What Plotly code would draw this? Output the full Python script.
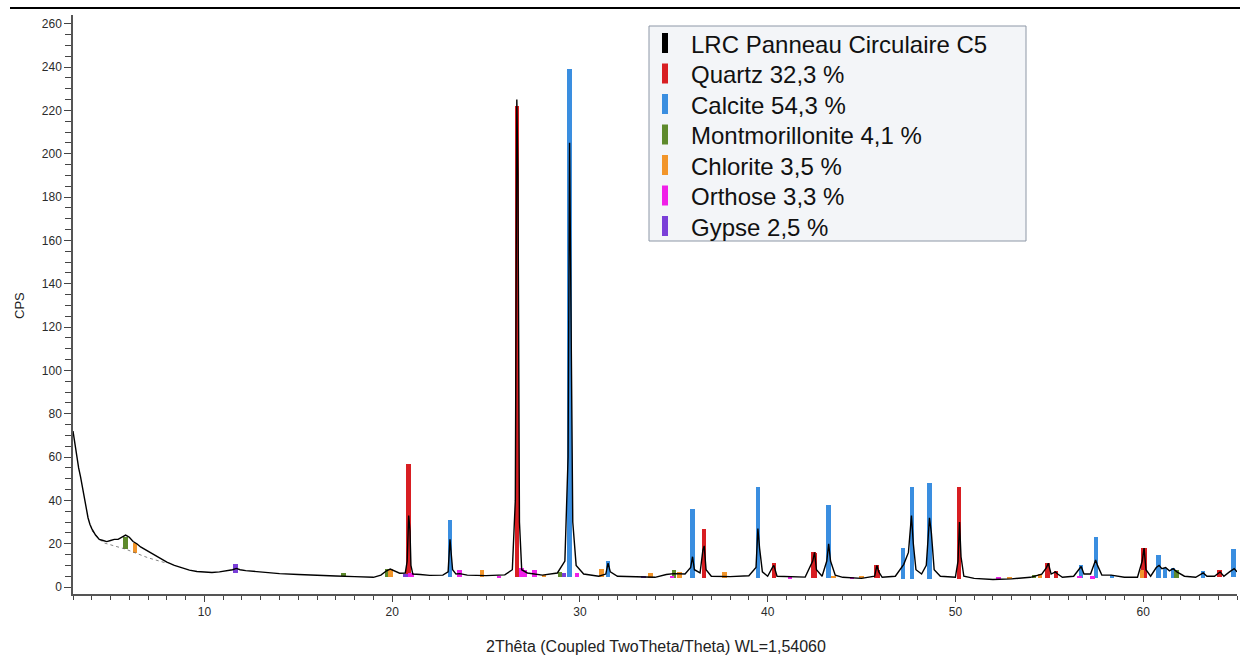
import numpy as np
import plotly.graph_objects as go

# ---------------- data ----------------
pattern_2theta = [3.0, 3.1, 3.2, 3.3, 3.4, 3.5, 3.6, 3.7, 3.8, 3.9, 4.0, 4.2, 4.4, 4.6, 4.8, 5.0, 5.2, 5.4,
                  5.6, 5.8, 5.9, 6.0, 6.2, 6.4, 6.6, 6.8, 7.0, 7.3, 7.6, 8.0, 8.4, 8.8, 9.2, 9.6, 10.0,
                  10.4, 10.8, 11.2, 11.5, 11.7, 11.9, 12.2, 12.6, 13.0, 13.5, 14.0, 15.0, 16.0, 17.0,
                  18.0, 19.0, 19.4, 19.7, 19.9, 20.1, 20.4, 20.7, 20.8, 20.88, 20.95, 21.0, 21.1, 21.5,
                  22.0, 22.7, 22.98, 23.08, 23.13, 23.22, 23.4, 23.6, 24.0, 25.0, 26.0, 26.4, 26.56,
                  26.64, 26.7, 26.78, 26.9, 27.2, 28.0, 28.8, 29.2, 29.37, 29.45, 29.52, 29.62, 29.8,
                  30.2, 31.0, 31.38, 31.5, 31.62, 32.0, 33.0, 34.0, 34.6, 35.0, 35.6, 35.9, 36.0, 36.1,
                  36.4, 36.55, 36.62, 36.72, 37.0, 38.0, 39.0, 39.38, 39.48, 39.57, 39.72, 40.0, 40.25,
                  40.33, 40.5, 41.5, 42.0, 42.4, 42.5, 42.6, 42.9, 43.15, 43.25, 43.35, 43.6, 44.0, 45.0,
                  45.7, 45.82, 45.92, 46.1, 46.8, 47.1, 47.25, 47.5, 47.66, 47.76, 47.9, 48.2, 48.45,
                  48.62, 48.72, 48.87, 49.2, 50.0, 50.14, 50.22, 50.3, 50.45, 51.0, 52.0, 53.0, 54.0,
                  54.6, 54.85, 54.95, 55.1, 55.33, 55.45, 55.7, 56.3, 56.6, 56.7, 56.85, 57.2, 57.47,
                  57.57, 57.8, 58.3, 59.0, 59.7, 59.95, 60.05, 60.15, 60.4, 60.7, 60.85, 61.0, 61.2,
                  61.4, 61.6, 61.8, 62.2, 62.8, 63.2, 63.4, 63.8, 64.1, 64.3, 64.6, 64.85, 65.0]
pattern_cps = [72, 66, 60, 55, 51, 46, 40, 36, 32, 29, 27, 24, 22, 21.5, 21, 21.5, 22, 22,
               23, 24, 23.5, 23, 21, 20, 18.5, 17.5, 16.3, 15, 13.5, 11.5, 10, 8.8, 7.8, 7.2, 6.8,
               6.7, 7.0, 7.5, 8.0, 8.6, 8.0, 7.6, 7.3, 6.8, 6.5, 6.2, 5.8, 5.3, 5.1,
               4.8, 4.5, 5.5, 7.5, 8.3, 7.5, 6.4, 6.5, 12, 33, 26, 10, 6, 5.8,
               5.4, 5.5, 7, 22, 18, 8, 6, 6.2, 5.5, 5.3, 5.6, 8, 40,
               225, 190, 30, 8, 6.5, 5.5, 6.5, 12, 60, 205, 140, 30, 10,
               6, 5, 6, 11, 7, 5, 4.8, 4.5, 5.8, 6.2, 6, 9, 14, 8,
               6.5, 17, 19, 8, 5, 4.8, 5.2, 9, 27, 18, 7, 5, 9,
               10, 5, 4.5, 4.6, 12, 16, 8, 5, 12, 20, 12, 5.5, 4.5, 4,
               5, 10, 7, 4.5, 5, 9, 10.5, 16, 33, 20, 8, 6, 10,
               32, 25, 8, 5, 4.5, 12, 30, 14, 5, 4, 3.5, 3.8, 4.5,
               6, 9, 11, 6, 7, 6, 4.5, 5, 8, 9.5, 6, 6, 12.5,
               10, 5.5, 5.5, 4.5, 4.5, 12, 18, 8, 5, 9, 10, 8.5, 9,
               7.5, 8.5, 7, 5, 4.5, 6.5, 5, 5, 7, 5, 7, 8.5, 7]

# background line under the reference sticks
bkg_2theta = [3.0, 4.0, 4.6, 5.8, 6.3, 7.0, 8.0, 9.0, 10.0, 12.0, 15.0, 20.0, 30.0, 40.0, 50.0, 55.0, 60.0, 65.0]
bkg_cps = [70, 26, 20.5, 17.5, 15.7, 13.5, 11, 8.5, 6.5, 6.5, 5.5, 4.5, 4.5, 4.2, 3.8, 4.0, 4.2, 4.5]

sample_name = "LRC Panneau Circulaire C5"
phase_names = ["Quartz 32,3 %", "Calcite 54,3 %", "Montmorillonite 4,1 %",
               "Chlorite 3,5 %", "Orthose 3,3 %", "Gypse 2,5 %"]

quartz_pos = [20.88, 26.64, 36.6, 40.33, 42.44, 42.52, 45.8, 45.88, 50.2, 54.9, 55.35, 59.98, 60.06, 64.08]
quartz_int = [57, 222, 27, 11, 16, 15.5, 10, 8, 46, 11, 7.5, 18, 18, 8]

calcite_pos = [23.08, 29.45, 31.5, 36.0, 39.48, 43.25, 47.2, 47.68, 48.63, 56.68, 57.5, 58.33,
               60.83, 61.17, 61.58, 63.2, 64.8]
calcite_int = [31, 239, 12, 36, 46, 38, 18, 46, 48, 10, 23, 5.5, 15, 8.7, 9, 7.5, 17.5]

montmo_pos = [5.8, 17.4, 19.75, 28.95, 35.0, 54.2, 61.78]
montmo_int = [23, 6.5, 8.5, 7, 7.8, 5.5, 7.8]

chlorite_pos = [6.3, 19.9, 24.78, 28.1, 31.14, 33.75, 35.3, 37.7, 43.5, 45.0, 52.87, 54.5, 59.95]
chlorite_int = [20.5, 8.5, 7.8, 5.5, 8.2, 6.5, 6.8, 6.8, 5, 5, 4.8, 6, 8]

orthose_pos = [20.95, 21.05, 23.58, 25.7, 26.9, 27.08, 27.57, 29.85, 34.9, 41.2, 44.5, 52.3, 56.6, 57.3]
orthose_int = [6.5, 6.5, 7.8, 5, 8.7, 8, 7.8, 6.5, 5, 4.5, 4.3, 4.2, 5, 5]

gypse_pos = [11.65, 20.72, 29.15, 33.4]
gypse_int = [10.5, 6, 6.5, 5]

phase_pos = [quartz_pos, calcite_pos, montmo_pos, chlorite_pos, orthose_pos, gypse_pos]
phase_int = [quartz_int, calcite_int, montmo_int, chlorite_int, orthose_int, gypse_int]
phase_colors = ["#d81e22", "#3a8ee0", "#5e8a2c", "#f2952a", "#f020e8", "#7a3fd8"]

x_range = [3.0, 65.0]
y_range = [-3.2, 264]
y_ticks = list(range(0, 261, 20))
x_ticks = [10, 20, 30, 40, 50, 60]

x_title = "2Thêta (Coupled TwoTheta/Theta) WL=1,54060"
y_title = "CPS"

# ---------------- figure ----------------
W, H = 1240, 659
L, R, T, B = 73, 3, 15, 65
pw, ph = W - L - R, H - T - B
FONT = "Liberation Sans, Arial, sans-serif"


def xp(px):
    return (px - L) / pw


def yp(py):
    return (H - B - py) / ph


fig = go.Figure()

# stick patterns (drawn first, under the measured curve)
for pos, inten, col, name in zip(phase_pos, phase_int, phase_colors, phase_names):
    base = np.interp(pos, bkg_2theta, bkg_cps)
    fig.add_trace(go.Bar(x=pos, y=np.array(inten) - base, base=base, width=0.24,
                         marker=dict(color=col, line=dict(width=0)), name=name,
                         showlegend=False, hoverinfo="x+y"))

# dotted background under the low-angle hump
fig.add_trace(go.Scatter(x=bkg_2theta[1:7], y=bkg_cps[1:7], mode="lines",
                         line=dict(color="#666666", width=0.8, dash="dot"),
                         showlegend=False, hoverinfo="skip"))

# measured pattern
fig.add_trace(go.Scatter(x=pattern_2theta, y=pattern_cps, mode="lines",
                         line=dict(color="black", width=1.4), name=sample_name,
                         showlegend=False))

axis_font = dict(family=FONT, size=12, color="#2a2a2a")

fig.update_layout(
    width=W, height=H,
    margin=dict(l=L, r=R, t=T, b=B, autoexpand=False),
    paper_bgcolor="white", plot_bgcolor="white",
    barmode="overlay", bargap=0,
    showlegend=False,
    xaxis=dict(range=x_range, tickvals=x_ticks, ticks="outside", ticklen=6, tickwidth=1.2,
               tickcolor="#444444", showline=True, linecolor="#555555", linewidth=1.5,
               showgrid=False, zeroline=False, tickfont=axis_font, automargin=False,
               minor=dict(dtick=1, tick0=0, ticks="outside", ticklen=4, tickcolor="#444444",
                          tickwidth=1.2, showgrid=False)),
    yaxis=dict(range=y_range, tickvals=y_ticks, ticks="outside", ticklen=7, tickwidth=1.2,
               tickcolor="#444444", showline=True, linecolor="#555555", linewidth=1.5,
               showgrid=False, zeroline=False, tickfont=axis_font, automargin=False,
               minor=dict(dtick=5, tick0=0, ticks="outside", ticklen=6, tickcolor="#444444",
                          tickwidth=1.2, showgrid=False)),
)

shapes = []
# heavy rule at the top of the page
shapes.append(dict(type="line", xref="paper", yref="paper", x0=xp(10), x1=xp(1240),
                   y0=yp(8), y1=yp(8), line=dict(color="black", width=2)))
# custom legend box
shapes.append(dict(type="rect", xref="paper", yref="paper", x0=xp(649), x1=xp(1026),
                   y0=yp(241), y1=yp(26), fillcolor="#f3f5f8",
                   line=dict(color="#8d97a6", width=1)))

legend_names = [sample_name] + phase_names
legend_colors = ["#000000"] + phase_colors
annotations = []
for i, (nm, col) in enumerate(zip(legend_names, legend_colors)):
    cy = 43 + i * 30.5
    shapes.append(dict(type="rect", xref="paper", yref="paper", x0=xp(662), x1=xp(668),
                       y0=yp(cy + 10), y1=yp(cy - 10), fillcolor=col, line=dict(width=0)))
    annotations.append(dict(xref="paper", yref="paper", x=xp(689), y=yp(cy + 1), text=nm,
                            showarrow=False, xanchor="left", yanchor="middle",
                            font=dict(family=FONT, size=24, color="#111111")))

# axis titles
annotations.append(dict(xref="paper", yref="paper", x=xp(656), y=yp(646), text=x_title,
                        showarrow=False, xanchor="center", yanchor="middle",
                        font=dict(family=FONT, size=16, color="#222222")))
annotations.append(dict(xref="paper", yref="paper", x=xp(19), y=yp(306), text=y_title,
                        showarrow=False, xanchor="center", yanchor="middle", textangle=-90,
                        font=dict(family=FONT, size=13, color="#222222")))

fig.update_layout(shapes=shapes, annotations=annotations)

# remove the page's default body margin so the figure sits at the window origin
fig.write_html("out.html", config={"displayModeBar": False},
               post_script="document.body.style.margin='0';document.body.style.overflow='hidden';")
